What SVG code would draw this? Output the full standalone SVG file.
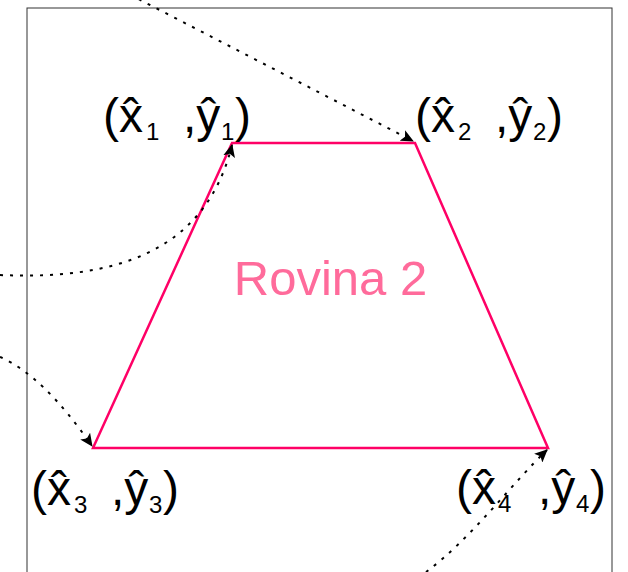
<svg xmlns="http://www.w3.org/2000/svg" width="628" height="572" viewBox="0 0 628 572">
<defs>
<marker id="ah" markerWidth="13" markerHeight="12" refX="12" refY="6" orient="auto" markerUnits="userSpaceOnUse">
<path d="M0,0 L13,6 L0,12 L3,6 z" fill="#000"/>
</marker>
<style>
.lbl{font-family:"Liberation Sans",Arial,sans-serif;font-size:48px;fill:#000}
.sub{font-size:24px}
.conn{fill:none;stroke:#000;stroke-width:2;stroke-dasharray:3 7;marker-end:url(#ah)}
</style>
</defs>
<rect x="27" y="8" width="585" height="580" fill="#fff" stroke="#333" stroke-width="1"/>
<g id="rovina2">
<polygon points="232,143 415,143 548,448 93,448" fill="none" stroke="#ff0066" stroke-width="2.5"/>
<text x="330.5" y="295" text-anchor="middle" font-family="'Liberation Sans',Arial,sans-serif" font-size="49" fill="#ff6b9b">Rovina 2</text>
</g>
<g id="label1"><text class="lbl" y="132"><tspan x="103">(x̂</tspan><tspan class="sub" x="146" dy="8">1</tspan><tspan x="183" dy="-8">,ŷ</tspan><tspan class="sub" x="221" dy="8">1</tspan><tspan x="235" dy="-8">)</tspan></text></g>
<g id="label2"><text class="lbl" y="132"><tspan x="415">(x̂</tspan><tspan class="sub" x="458" dy="8">2</tspan><tspan x="495" dy="-8">,ŷ</tspan><tspan class="sub" x="533" dy="8">2</tspan><tspan x="547" dy="-8">)</tspan></text></g>
<g id="label3"><text class="lbl" y="505"><tspan x="31">(x̂</tspan><tspan class="sub" x="74" dy="8">3</tspan><tspan x="111" dy="-8">,ŷ</tspan><tspan class="sub" x="149" dy="8">3</tspan><tspan x="163" dy="-8">)</tspan></text></g>
<g id="label4"><text class="lbl" y="504"><tspan x="456">(x̂</tspan><tspan class="sub" x="498" dy="8">4</tspan><tspan x="538" dy="-8">,ŷ</tspan><tspan class="sub" x="576" dy="8">4</tspan><tspan x="590" dy="-8">)</tspan></text></g>
<g id="connectors">
<path class="conn" d="M121,-10 L413,141"/>
<path class="conn" d="M0,275 C110,280 205,255 232,145"/>
<path class="conn" d="M0,357 C30,370 60,400 92,446"/>
<path class="conn" d="M426,572 C470,540 515,480 547,450"/>
</g>
</svg>
